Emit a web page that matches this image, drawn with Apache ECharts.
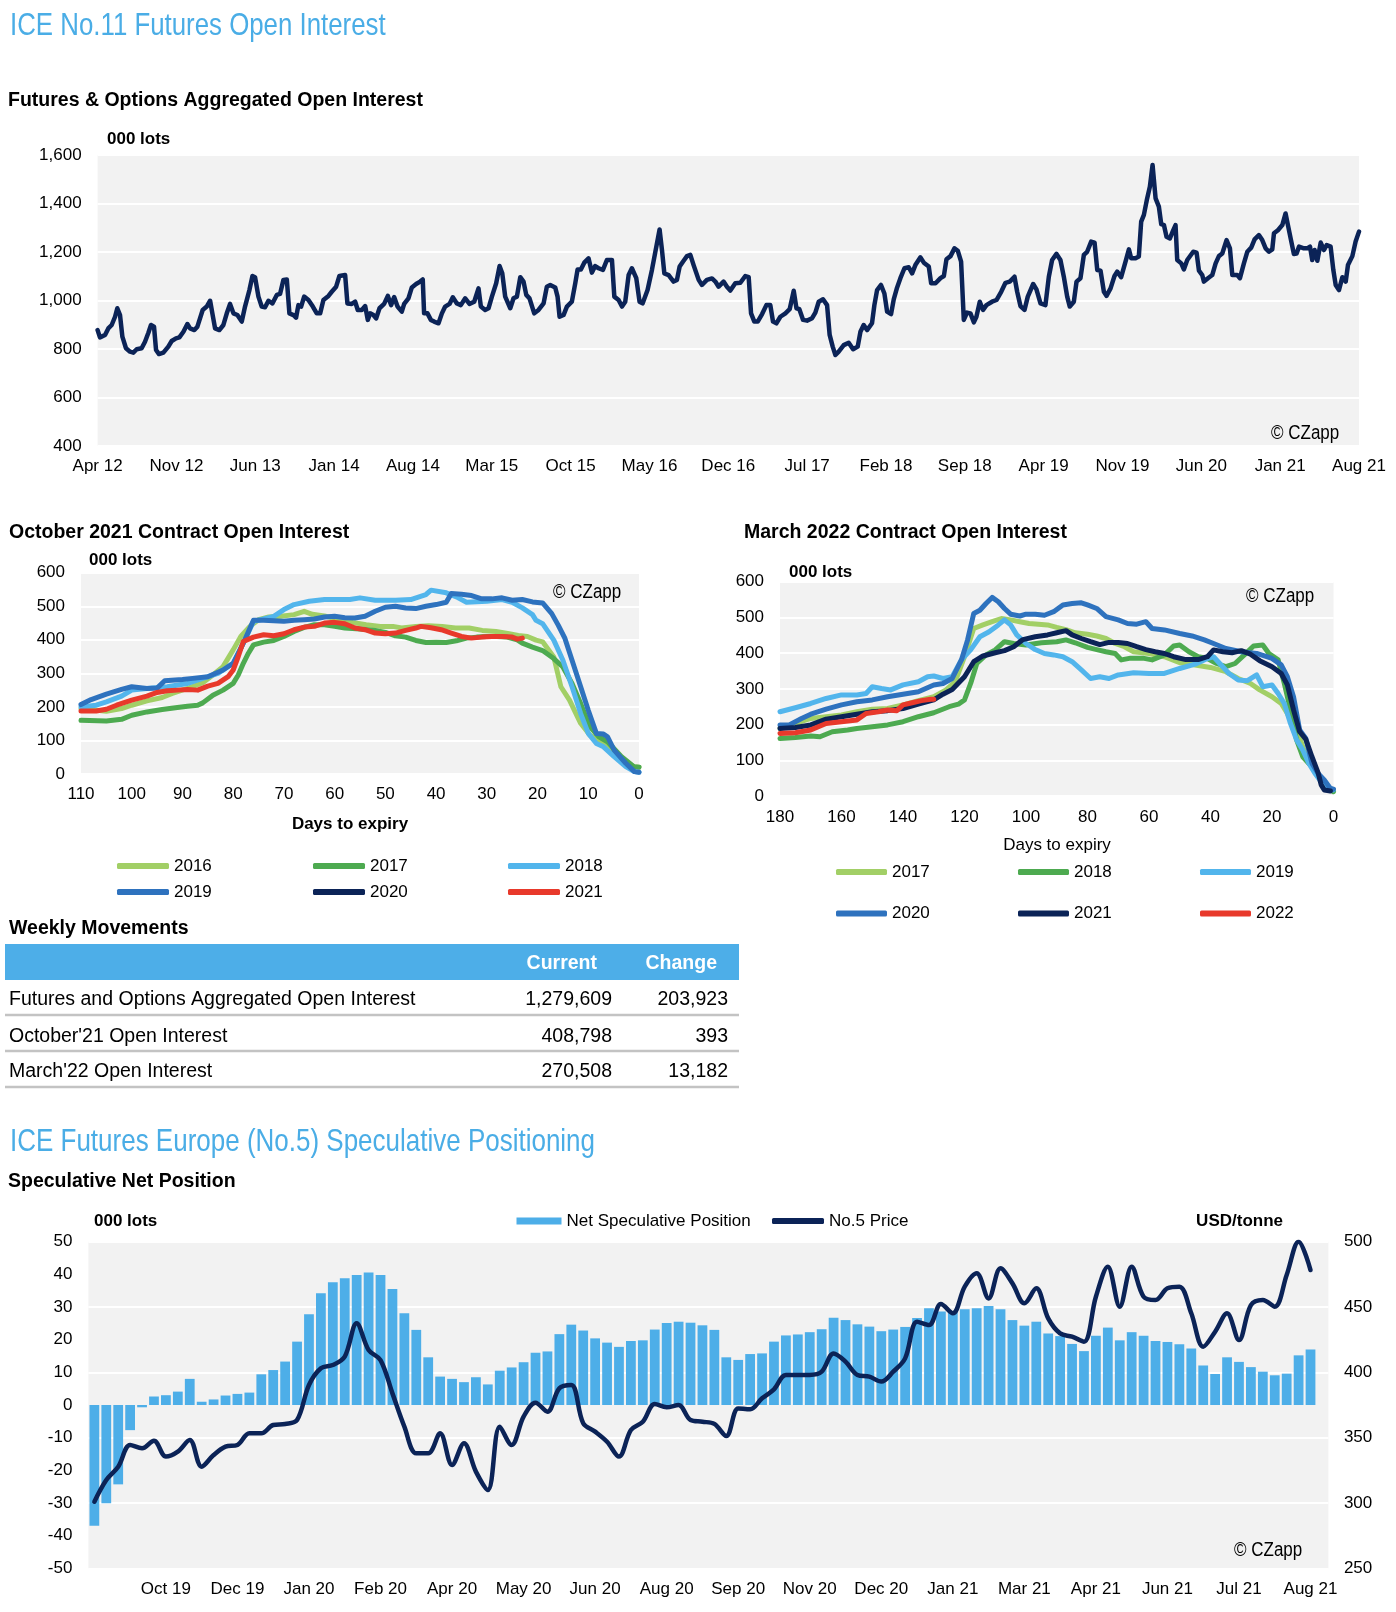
<!DOCTYPE html>
<html><head><meta charset="utf-8">
<script src="https://cdn.jsdelivr.net/npm/echarts@6/dist/echarts.min.js"></script>
<style>html,body{margin:0;padding:0;background:#fff}#c{width:1396px;height:1612px}</style>
</head><body><div id="c"></div>
<script>
// ---------- Chart 1: Futures & Options Aggregated Open Interest (x = months since Apr 2012) ----------
const oiTickLabels = ['Apr 12','Nov 12','Jun 13','Jan 14','Aug 14','Mar 15','Oct 15','May 16','Dec 16','Jul 17','Feb 18','Sep 18','Apr 19','Nov 19','Jun 20','Jan 21','Aug 21'];
const oiPoints = [
[0,878],[0.21,848],[0.66,858],[0.95,885],[1.25,899],[1.55,933],[1.75,968],[1.99,940],[2.2,851],[2.52,803],[2.88,789],[3.17,785],[3.47,799],[3.91,803],[4.21,830],[4.51,867],[4.74,899],[5.01,892],[5.19,796],[5.45,779],[5.84,785],[6.28,810],[6.58,833],[6.96,844],[7.26,848],[7.62,871],[7.97,903],[8.21,885],[8.59,878],[8.86,892],[9.33,961],[9.69,975],[9.99,999],[10.19,947],[10.43,885],[10.81,878],[11.17,899],[11.47,947],[11.76,986],[12.06,947],[12.41,940],[12.8,913],[13.09,975],[13.48,1043],[13.75,1101],[13.98,1096],[14.28,1016],[14.57,975],[14.87,972],[15.17,999],[15.52,988],[15.91,1023],[16.2,1027],[16.5,1085],[16.8,1087],[17.03,947],[17.39,940],[17.62,929],[17.83,981],[18.07,975],[18.34,1016],[18.72,1002],[19.11,975],[19.46,947],[19.76,947],[20.05,1002],[20.5,1019],[20.79,1036],[21.18,1057],[21.47,1101],[21.98,1105],[22.18,988],[22.57,986],[22.87,995],[23.1,961],[23.46,961],[23.76,977],[23.99,920],[24.2,947],[24.49,940],[24.73,926],[25.03,968],[25.44,986],[25.77,1019],[26.06,981],[26.33,1014],[26.63,975],[27.01,954],[27.22,986],[27.6,1009],[27.9,1054],[28.28,1068],[28.64,1078],
[28.87,1087],[28.99,947],[29.29,947],[29.59,920],[29.88,913],[30.27,906],[30.57,947],[30.86,975],[31.25,986],[31.54,1013],[31.9,988],[32.25,981],[32.64,1009],[33.02,986],[33.44,995],[33.82,1050],[34.03,975],[34.41,961],[34.71,968],[35.01,1016],[35.39,1071],[35.69,1142],[35.93,1112],[36.19,1016],[36.64,968],[36.93,1009],[37.23,1016],[37.53,1096],[37.82,1078],[38.06,1023],[38.35,1009],[38.77,947],[39.15,961],[39.6,988],[39.89,1057],[40.19,1064],[40.63,1054],[40.84,1016],[41.02,933],[41.37,940],[41.67,975],[42.11,995],[42.41,1071],[42.62,1128],[42.91,1128],[43.21,1156],[43.59,1174],[43.89,1115],[44.18,1142],[44.48,1133],[44.87,1126],[45.22,1167],[45.67,1167],[45.88,1016],[46.26,1002],[46.56,975],[46.85,995],[47.15,1105],[47.44,1133],[47.83,1092],[48.12,995],[48.39,988],[48.83,1043],[49.22,1126],[49.61,1222],[49.9,1293],[50.11,1208],[50.32,1112],[50.7,1105],[51.14,1078],[51.44,1085],[51.68,1140],[51.97,1160],[52.33,1183],[52.63,1188],[52.92,1146],[53.37,1085],[53.66,1064],[54.1,1085],[54.55,1091],[54.85,1078],[55.14,1057],[55.58,1078],[55.88,1057],[56.18,1041],[56.62,1071],[57.07,1073],
[57.51,1101],[57.81,1096],[58.02,947],[58.31,913],[58.61,913],[59.0,944],[59.38,981],[59.73,981],[59.97,913],[60.27,906],[60.62,933],[61.07,947],[61.45,964],[61.81,1040],[62.05,968],[62.31,964],[62.64,920],[62.99,917],[63.44,927],[63.73,950],[64.03,995],[64.41,1005],[64.77,981],[65.0,858],[65.27,810],[65.51,775],[65.8,789],[66.25,816],[66.69,826],[67.08,799],[67.49,810],[67.73,871],[68.02,899],[68.32,878],[68.76,906],[68.97,981],[69.21,1043],[69.56,1064],[69.86,1029],[70.1,954],[70.45,944],[70.69,1005],[70.99,1054],[71.28,1092],[71.64,1133],[72.02,1137],[72.32,1112],[72.61,1146],[73.06,1178],[73.36,1156],[73.8,1140],[74.01,1071],[74.4,1071],[74.84,1092],[75.14,1101],[75.37,1170],[75.73,1183],[76.08,1215],[76.38,1205],[76.67,1160],[76.91,920],[77.2,950],[77.5,947],[77.8,910],[78.03,933],[78.33,995],[78.62,961],[78.92,981],[79.42,995],[79.81,1002],[80.23,1036],[80.61,1073],[80.99,1078],[81.41,1098],[81.65,1036],[81.94,977],[82.3,961],[82.59,1016],[83.07,1068],[83.36,1046],[83.72,988],[84.16,981],[84.46,1098],[84.75,1167],[85.14,1192],[85.49,1167],
[85.79,1098],[86.09,1016],[86.32,975],[86.68,995],[86.92,1078],[87.27,1092],[87.57,1188],[87.86,1201],[88.22,1243],[88.52,1239],[88.76,1126],[89.05,1123],[89.35,1036],[89.58,1019],[89.94,1050],[90.29,1101],[90.53,1119],[90.88,1096],[91.27,1160],[91.57,1211],[91.77,1174],[92.16,1174],[92.45,1181],[92.66,1325],[92.9,1353],[93.19,1421],[93.43,1469],[93.67,1559],[93.94,1421],[94.23,1387],[94.44,1315],[94.68,1311],[94.91,1263],[95.21,1256],[95.51,1290],[95.71,1311],[95.86,1167],[96.22,1153],[96.45,1128],[96.75,1167],[97.28,1201],[97.58,1197],[97.79,1123],[98.08,1105],[98.23,1078],[98.59,1092],[98.97,1105],[99.27,1153],[99.56,1183],[99.86,1194],[100.24,1249],[100.54,1215],[100.75,1105],[101.19,1105],[101.43,1092],[101.78,1153],[102.08,1201],[102.43,1218],[102.73,1252],[103.11,1270],[103.41,1249],[103.71,1215],[104.0,1201],[104.3,1211],[104.45,1277],[104.8,1290],[105.19,1311],[105.48,1359],[105.69,1311],[105.93,1256],[106.22,1192],[106.46,1194],[106.67,1222],[107.11,1215],[107.41,1215],[107.65,1222],[107.85,1167],[108.06,1208],[108.3,1164],[108.6,1239],[108.89,1208],[109.13,1229],[109.48,1222],[109.72,1126],[109.93,1064],[110.22,1043],[110.52,1096],[110.82,1078],[111.02,1146],[111.41,1183],[111.7,1243],[112.0,1284]
];

// ---------- Chart 2: October 2021 contract (x = days to expiry, 000 lots) ----------
const oct2016 = [[110,195],[105,187],[102,195],[100,205],[97,218],[94,228],[92,240],[89,255],[86,272],[84,295],[82,320],[80,370],[78.5,410],[76.7,440],[75,460],[73,468],[70.6,470],[68,475],[66,485],[64.4,476],[61.7,470],[59,460],[56.5,452],[53.8,445],[51,440],[48.5,440],[46.8,435],[44,440],[41.5,442],[38.8,440],[36.2,435],[33.5,435],[30.9,428],[28.2,425],[25.6,418],[23.8,413],[22,410],[20.3,399],[19,394],[16.8,349],[15.4,260],[13.7,220],[11.5,151],[9.7,116],[7.9,101],[6.2,81],[3.5,42],[1,22],[0,20]];
const oct2017 = [[110,160],[105,158],[102,163],[100,175],[97,185],[94,192],[91,198],[89,202],[87,205],[86,212],[84,235],[82,250],[80,270],[79,295],[78,330],[77,360],[76,385],[74,393],[72,398],[70,410],[68,425],[66,437],[64,445],[62,445],[60,440],[58,435],[55,432],[52,428],[50,422],[48,412],[46,408],[44,398],[42,392],[40,393],[38,392],[36,397],[34,405],[32,408],[30,410],[28,410],[26,408],[24,400],[23,390],[21,378],[19,368],[16.8,344],[15,319],[13.2,270],[11.5,210],[9.7,141],[7.9,111],[6.2,96],[3.5,52],[1,22],[0,20]];
const oct2018 = [[110,200],[107,205],[105,215],[102,232],[100,250],[97,255],[93,260],[89,270],[86,285],[83,300],[80,330],[78,390],[76,455],[74,462],[72,470],[70,490],[68,505],[65,515],[62,520],[60,520],[57,520],[55,525],[52,518],[48,518],[45,520],[42,535],[41,548],[38,540],[36,528],[34,512],[30,515],[27,520],[25,512],[23,495],[21,475],[20.3,458],[19,448],[16.8,399],[15,339],[13.2,260],[11.5,180],[10,121],[8.4,91],[7,81],[4.9,52],[2.6,22],[0.9,7],[0,5]];
const oct2019 = [[110,207],[108,222],[105,238],[102,252],[100,260],[97,255],[95,256],[93.5,278],[90,282],[88,285],[85,290],[82,310],[80,330],[78,390],[76,458],[74,458],[72,457],[70,455],[68,458],[66,460],[64,462],[62,468],[60,470],[58,466],[56,465],[54,470],[52,485],[50,497],[48,500],[46,495],[44,493],[42,500],[40,505],[38,512],[37,538],[35,536],[33,532],[31,522],[29,522],[27,525],[25,518],[23,520],[21,513],[19,510],[17.2,478],[15.9,443],[14.6,404],[13.2,339],[11.5,260],[10,190],[8.4,121],[7,119],[6.2,111],[4.9,71],[2.6,32],[0.9,7],[0,5]];
const oct2020 = [];
const oct2021 = [[110,188],[107,188],[105,193],[103,205],[100,220],[97,232],[95,243],[93,248],[91,250],[89,252],[87,250],[85,262],[83,270],[81,290],[80,310],[79,350],[78,395],[76,408],[74,415],[72,412],[70,418],[68,430],[66,438],[64,440],[62,450],[60,452],[58,448],[56,435],[54,430],[52,420],[50,418],[48,420],[46,428],[44,435],[43,440],[41,436],[39,430],[37,420],[35,410],[33,405],[31,408],[29,410],[27,410],[25,408],[24,402],[23,405]];

// ---------- Chart 3: March 2022 contract ----------
const mar2017 = [[180,189],[175,203],[170,217],[165,222],[160,227],[155,236],[150,243],[145,245],[140,255],[135,267],[130,278],[126,297],[123,320],[120,390],[117,469],[114,479],[111,488],[108,497],[105,493],[102,488],[99,483],[96,481],[93,479],[90,472],[87,466],[84,457],[80,453],[77,448],[74,441],[71,427],[68,418],[65,404],[60,399],[55,390],[50,373],[45,367],[40,360],[35,348],[31,329],[27,315],[24,297],[20,278],[17,259],[15,231],[13,194],[11,166],[9,110],[7,82],[5,59],[3,40],[1,17]];
const mar2018 = [[180,161],[175,164],[170,168],[167,166],[163,180],[158,185],[155,189],[150,194],[145,199],[140,208],[135,222],[130,233],[125,250],[122,257],[120,269],[118,315],[116,371],[113,395],[110,409],[107,432],[104,427],[100,423],[95,429],[90,432],[87,437],[84,429],[80,416],[77,410],[74,404],[71,399],[69,381],[66,386],[62,386],[59,381],[55,395],[52,420],[50,423],[47,404],[44,390],[41,385],[38,371],[35,362],[32,371],[29,395],[26,420],[23,423],[21,399],[18,381],[16,315],[14,241],[12,157],[10,110],[8,91],[6,73],[4,45],[2,26],[0,12]];
const mar2019 = [[180,236],[175,247],[170,259],[165,273],[160,283],[155,283],[152,287],[150,306],[147,301],[144,297],[140,311],[135,320],[132,334],[130,336],[127,329],[124,334],[121,381],[118,409],[115,446],[112,460],[109,479],[107,493],[105,479],[103,451],[100,427],[97,410],[94,399],[91,395],[88,390],[85,376],[82,353],[79,329],[76,334],[73,329],[70,339],[65,345],[60,343],[55,343],[50,357],[45,369],[41,385],[39,390],[37,371],[34,343],[31,325],[28,323],[25,339],[23,306],[20,311],[18,287],[16,259],[14,203],[12,157],[10,129],[8,91],[6,63],[4,40],[2,26],[0,17]];
const mar2020 = [[180,199],[177,199],[173,217],[170,229],[165,243],[160,255],[155,264],[150,269],[145,278],[140,285],[135,292],[130,311],[127,315],[124,329],[121,381],[119,437],[117,511],[115,520],[113,539],[111,556],[109,544],[107,525],[105,509],[102,504],[100,509],[97,509],[94,506],[91,516],[88,535],[85,539],[82,541],[80,535],[77,525],[74,502],[70,493],[67,483],[64,481],[61,488],[59,469],[55,465],[50,455],[46,448],[42,437],[39,427],[35,413],[30,404],[25,399],[20,385],[17,367],[15,334],[13,278],[11,185],[9,161],[7,91],[5,63],[3,45],[1,21],[0,19]];
const mar2021 = [[180,189],[175,192],[170,199],[165,215],[160,222],[155,229],[150,236],[145,239],[140,245],[135,257],[130,269],[127,285],[124,298],[120,334],[117,376],[114,392],[110,401],[107,407],[104,418],[101,438],[97,446],[93,451],[90,457],[87,463],[85,451],[82,441],[79,432],[76,424],[73,430],[70,430],[67,427],[64,418],[61,410],[58,404],[55,399],[52,390],[48,382],[44,382],[41,390],[39,409],[36,404],[33,401],[30,407],[27,397],[24,379],[20,362],[17,343],[15,311],[13,241],[11,180],[9,159],[7,110],[5,65],[4,31],[3,17],[1,14]];
const mar2022 = [[180,175],[175,177],[170,185],[165,203],[160,208],[155,213],[152,231],[148,236],[145,241],[142,239],[140,255],[137,261],[134,267],[131,271],[130,271]];

// ---------- Weekly movements table ----------
const tableRows = ['Futures and Options Aggregated Open Interest', "October'21 Open Interest", "March'22 Open Interest"];
const tableCurrent = ['1,279,609', '408,798', '270,508'];
const tableChange = ['203,923', '393', '13,182'];

// ---------- Chart 4: ICE No.5 speculative net position (weekly) ----------
const specTickLabels = ['Oct 19','Dec 19','Jan 20','Feb 20','Apr 20','May 20','Jun 20','Aug 20','Sep 20','Nov 20','Dec 20','Jan 21','Mar 21','Apr 21','Jun 21','Jul 21','Aug 21'];
const specNet = [-37.0,-30.1,-24.3,-7.7,-0.7,2.6,3.0,4.1,8.0,1.0,1.7,2.9,3.4,3.8,9.4,10.7,13.3,19.4,27.8,34.2,37.6,38.8,39.8,40.6,39.8,35.5,28.1,23.0,14.6,8.7,8.0,7.0,8.5,6.3,10.5,11.5,13.1,16.0,16.4,21.7,24.6,22.8,20.4,19.1,17.8,19.6,19.8,23.1,25.1,25.5,25.2,24.4,23.0,14.6,13.8,15.6,15.8,19.4,21.3,21.6,22.3,23.2,26.7,26.0,24.7,24.0,22.6,23.1,23.9,26.6,29.6,28.6,28.6,29.3,29.6,30.3,29.3,26.0,24.3,25.5,21.9,21.1,18.7,16.5,21.2,23.7,19.8,22.3,21.2,19.6,19.3,18.6,17.3,12.1,9.5,14.6,13.2,11.6,10.2,9.1,9.6,15.2,17.0];
const no5Price = [301,317.6,327.8,344.4,341.8,347.7,335.5,339.3,348.2,327.8,336.7,343.1,344.4,353.3,353.3,359.7,360.5,363.5,390.3,403.1,405.6,412.0,437.5,417.1,409.4,383.9,358.4,338.0,338.0,353.3,329.1,345.7,324.0,310.0,358.4,344.4,366.1,376.8,369.9,387.8,390.3,361.0,354.6,346.9,335.5,355.9,362.2,375.8,373.2,375.0,363.5,362.2,360.5,351.3,372.4,371.7,380.1,387.0,398.0,398.0,398.0,400.5,414.5,408.2,398.0,396.7,392.9,400.5,410.7,438.8,436.2,452.3,445.2,465.6,475.8,456.6,479.6,468.1,452.8,464.3,441.3,429.8,427.3,423.5,457.9,480.9,450.3,480.9,457.9,455.4,464.3,465.6,445.2,419.6,431.1,445.2,424.7,451.5,455.4,450.3,474.5,500,478.3];
const specWeeks = 104; // one spare slot at the end of the axis

// ---------- styling ----------
const FONT = '"Liberation Sans", Arial, Helvetica, sans-serif';
const C = { navy:'#0B2357', lgreen:'#A2CF66', green:'#4DAA50', lblue:'#52B5EC', blue:'#2E72BE', red:'#E8392B', sky:'#4DAEE8', title:'#4AADE6', bg:'#F2F2F2' };

function T(x, y, text, size, o) {
  o = o || {};
  const al = o.align || 'left';
  return { type:'text', x:x, y:y, scaleX:o.sx||1, silent:true, z:10,
    style:{ text:text, fill:o.color||'#000', font:(o.bold?'bold ':'')+size+'px '+FONT,
      textAlign:al, align:al, textVerticalAlign:'middle', verticalAlign:'middle' } };
}
function hline(y){ return { type:'line', silent:true, shape:{x1:5,y1:y,x2:739,y2:y}, style:{stroke:'#C3C3C3', lineWidth:2.5} }; }

const graphics = [
  T(10, 26, 'ICE No.11 Futures Open Interest', 31.5, {color:C.title, sx:0.82}),
  T(8, 101, 'Futures & Options Aggregated Open Interest', 19.5, {bold:true}),
  T(107, 139, '000 lots', 17, {bold:true}),
  T(1271, 433, '© CZapp', 20, {sx:0.85}),
  T(9, 533, 'October 2021 Contract Open Interest', 19.5, {bold:true}),
  T(89, 560, '000 lots', 17, {bold:true}),
  T(553, 592, '© CZapp', 20, {sx:0.85}),
  T(350, 824, 'Days to expiry', 17, {bold:true, align:'center'}),
  T(744, 533, 'March 2022 Contract Open Interest', 19.5, {bold:true}),
  T(789, 572, '000 lots', 17, {bold:true}),
  T(1246, 596, '© CZapp', 20, {sx:0.85}),
  T(1057, 845, 'Days to expiry', 17, {align:'center'}),
  T(9, 929, 'Weekly Movements', 19.5, {bold:true}),
  { type:'rect', silent:true, shape:{x:5,y:944,width:734,height:36}, style:{fill:C.sky} },
  T(597, 964, 'Current', 19.5, {bold:true, color:'#fff', align:'right'}),
  T(717, 964, 'Change', 19.5, {bold:true, color:'#fff', align:'right'}),
  hline(1015), hline(1051), hline(1087),
  T(10, 1142, 'ICE Futures Europe (No.5) Speculative Positioning', 31.5, {color:C.title, sx:0.825}),
  T(8, 1182, 'Speculative Net Position', 19.5, {bold:true}),
  T(94, 1221, '000 lots', 17, {bold:true}),
  T(1283, 1221, 'USD/tonne', 17, {bold:true, align:'right'}),
  T(1234, 1550, '© CZapp', 20, {sx:0.85})
];
const rowY = [1000, 1036.5, 1072];
tableRows.forEach(function(r, i){
  graphics.push(T(9, rowY[i], r, 19.5));
  graphics.push(T(612, rowY[i], tableCurrent[i], 19.5, {align:'right'}));
  graphics.push(T(728, rowY[i], tableChange[i], 19.5, {align:'right'}));
});

const lab = { color:'#000', fontSize:17, fontFamily:FONT };
const white = { show:true, lineStyle:{ color:'#fff', width:2 } };
function grid(l, t, w, h){ return { left:l, top:t, width:w, height:h, show:true, backgroundColor:C.bg, borderWidth:0, borderColor:'transparent', containLabel:false }; }
function line(name, data, color, xi, yi, w){
  return { name:name, type:'line', xAxisIndex:xi, yAxisIndex:yi, data:data, color:color, showSymbol:false, symbol:'none',
    lineStyle:{ color:color, width:w, cap:'round', join:'round' }, itemStyle:{color:color}, animation:false };
}
function leg(name, left, top, w, h, icon){
  return { data:[name], left:left, top:top, orient:'horizontal', itemWidth:w, itemHeight:h, icon:icon, padding:0, selectedMode:false,
    formatter:function(n){ return n.replace(/^[OM](?=\d)/, ''); },
    textStyle:{ color:'#000', fontSize:17, fontFamily:FONT, lineHeight:20 } };
}

const option = {
  animation:false,
  backgroundColor:'#fff',
  textStyle:{ fontFamily:FONT },
  grid:[ grid(97.6, 155, 1261.4, 291), grid(81, 572.7, 558, 201.3), grid(780, 581.7, 553.5, 214.3), grid(88.4, 1241.7, 1240, 326.6) ],
  xAxis:[
    { type:'value', gridIndex:0, min:0, max:112, interval:7, splitLine:{show:false}, axisLine:{show:false}, axisTick:{show:false},
      axisLabel:Object.assign({ margin:12, formatter:function(v){ return oiTickLabels[Math.round(v/7)] || ''; } }, lab) },
    { type:'value', gridIndex:1, min:0, max:110, interval:10, inverse:true, splitLine:{show:false}, axisLine:{show:false}, axisTick:{show:false},
      axisLabel:Object.assign({ margin:12 }, lab) },
    { type:'value', gridIndex:2, min:0, max:180, interval:20, inverse:true, splitLine:{show:false}, axisLine:{show:false}, axisTick:{show:false},
      axisLabel:Object.assign({ margin:13 }, lab) },
    { type:'category', gridIndex:3, data:Array.from({length:specWeeks}, function(_, i){ return 'w'+i; }), boundaryGap:true,
      axisLine:{show:false}, axisTick:{show:false}, splitLine:{show:false},
      axisLabel:Object.assign({ margin:13, interval:0, formatter:function(v, i){ return (i>0 && i%6===0) ? (specTickLabels[i/6-1]||'') : ''; } }, lab) }
  ],
  yAxis:[
    { type:'value', gridIndex:0, min:400, max:1600, interval:200, splitLine:white, axisLine:{show:false}, axisTick:{show:false},
      axisLabel:Object.assign({ margin:16, formatter:function(v){ return v.toLocaleString('en-US'); } }, lab) },
    { type:'value', gridIndex:1, min:0, max:600, interval:100, splitLine:white, axisLine:{show:false}, axisTick:{show:false}, axisLabel:Object.assign({margin:16}, lab) },
    { type:'value', gridIndex:2, min:0, max:600, interval:100, splitLine:white, axisLine:{show:false}, axisTick:{show:false}, axisLabel:Object.assign({margin:16}, lab) },
    { type:'value', gridIndex:3, min:-50, max:50, interval:10, splitLine:{show:false}, axisLine:{show:false}, axisTick:{show:false}, axisLabel:Object.assign({margin:16}, lab) },
    { type:'value', gridIndex:3, position:'right', min:250, max:500, interval:50, splitLine:white, axisLine:{show:false}, axisTick:{show:false}, axisLabel:Object.assign({margin:15.5}, lab) }
  ],
  legend:[
    leg('O2016', 117, 856, 52, 6, 'roundRect'), leg('O2019', 117, 882, 52, 6, 'roundRect'),
    leg('O2017', 313, 856, 52, 6, 'roundRect'), leg('O2020', 313, 882, 52, 6, 'roundRect'),
    leg('O2018', 508, 856, 52, 6, 'roundRect'), leg('O2021', 508, 882, 52, 6, 'roundRect'),
    leg('M2017', 836, 862, 51, 6, 'roundRect'), leg('M2020', 836, 903.5, 51, 6, 'roundRect'),
    leg('M2018', 1018, 862, 51, 6, 'roundRect'), leg('M2021', 1018, 903.5, 51, 6, 'roundRect'),
    leg('M2019', 1200, 862, 51, 6, 'roundRect'), leg('M2022', 1200, 903.5, 51, 6, 'roundRect'),
    leg('Net Speculative Position', 516.5, 1211, 45, 7, 'rect'),
    leg('No.5 Price', 772, 1211, 52, 6, 'roundRect')
  ],
  series:[
    line('OI', oiPoints, C.navy, 0, 0, 4.5),
    line('O2016', oct2016, C.lgreen, 1, 1, 5),
    line('O2017', oct2017, C.green, 1, 1, 5),
    line('O2018', oct2018, C.lblue, 1, 1, 5),
    line('O2019', oct2019, C.blue, 1, 1, 5),
    line('O2020', oct2020, C.navy, 1, 1, 5),
    line('O2021', oct2021, C.red, 1, 1, 5),
    line('M2017', mar2017, C.lgreen, 2, 2, 5),
    line('M2018', mar2018, C.green, 2, 2, 5),
    line('M2019', mar2019, C.lblue, 2, 2, 5),
    line('M2020', mar2020, C.blue, 2, 2, 5),
    line('M2021', mar2021, C.navy, 2, 2, 5),
    line('M2022', mar2022, C.red, 2, 2, 5),
    { name:'Net Speculative Position', type:'bar', xAxisIndex:3, yAxisIndex:3, data:specNet, color:C.sky,
      itemStyle:{ color:C.sky }, barCategoryGap:'18%', animation:false },
    Object.assign(line('No.5 Price', no5Price, C.navy, 3, 4, 4.5), { smooth:0.35 })
  ],
  graphic:{ elements: graphics }
};

const chart = echarts.init(document.getElementById('c'), null, { renderer:'canvas', width:1396, height:1612 });
chart.setOption(option);
</script></body></html>
